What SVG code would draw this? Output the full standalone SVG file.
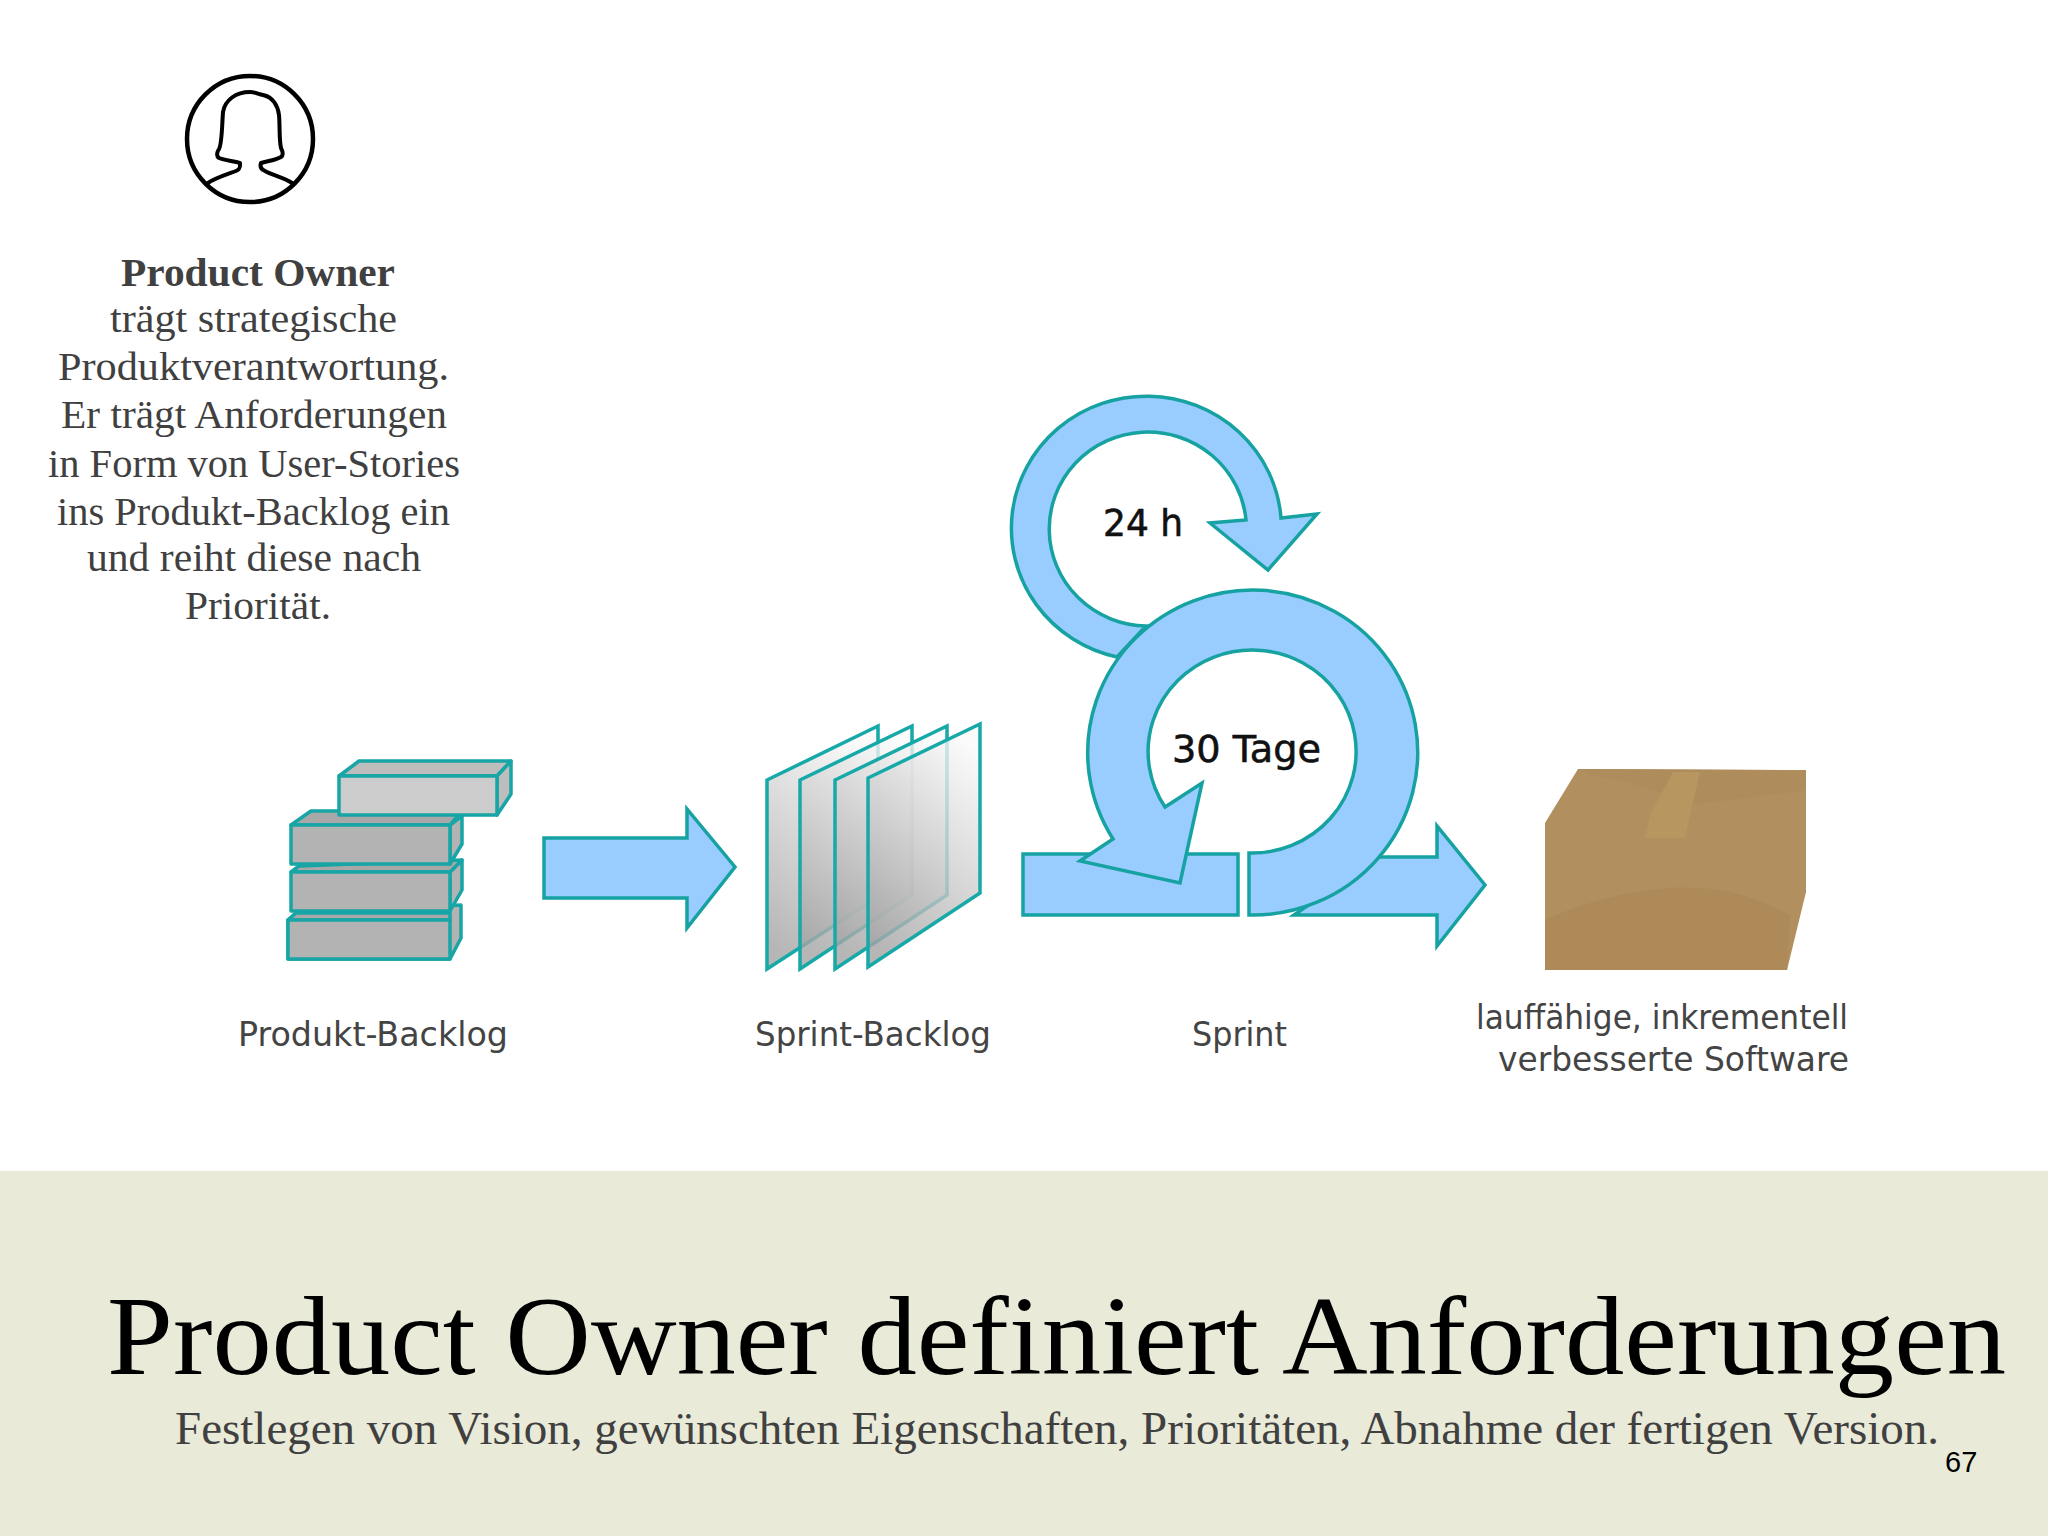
<svg xmlns="http://www.w3.org/2000/svg" width="2048" height="1536" viewBox="0 0 2048 1536">
<style>
.flow{fill:#99ccff;stroke:#17a2a2;stroke-width:3.5;stroke-linejoin:miter}
.bx{stroke:#17a5a5;stroke-width:3.5;stroke-linejoin:round}
.d{fill:#b3b3b3}.dt{fill:#a8a8a8}.l{fill:#cccccc}.lt{fill:#bdbdbd}
.pl{fill:url(#g);stroke:#17a8a8;stroke-width:3.5}
.body{font-family:"Liberation Serif",serif;font-size:39px;fill:#404040}
.lab{font-family:"DejaVu Sans",sans-serif;font-size:33px;fill:#444444}
.in{font-family:"DejaVu Sans",sans-serif;font-size:38px;fill:#111111;stroke:#111111;stroke-width:.6}
.ic{fill:none;stroke:#000;stroke-linejoin:round;stroke-linecap:round}
</style>
<defs>
<linearGradient id="g" x1="0.7" y1="0" x2="0.3" y2="1">
<stop offset="0" stop-color="#fafafa" stop-opacity=".8"/>
<stop offset="1" stop-color="#a4a4a4" stop-opacity=".8"/>
</linearGradient>
</defs>
<rect width="2048" height="1536" fill="#ffffff"/>
<rect id="band" x="0" y="1171" width="2048" height="365" fill="#e9ead8"/>

<g id="product-owner-icon">
<circle class="ic" cx="250" cy="139" r="63" stroke-width="4.5"/>
<path class="ic" stroke-width="4" d="M208,183 C215,178 228,174 236,171 C241,169 240,166 240,163 C232,161 224,160 219,158 C216,156 217,152 219,149 C222,144 222,125 223,112 C225,100 236,92 250,92 C255,92 258,94 263,95 C273,97 278,106 279,115 C280,125 279,140 281,148 C283,152 284,155 281,157 C276,160 268,161 261,163 C260,166 260,169 265,171 C272,175 285,178 292,183"/>
</g>

<g id="product-owner-text">
<text x="121" y="286" class="body" font-weight="bold" textLength="274" lengthAdjust="spacingAndGlyphs">Product Owner</text>
<text x="110" y="332" class="body" textLength="287" lengthAdjust="spacingAndGlyphs">trägt strategische</text>
<text x="58" y="380" class="body" textLength="391" lengthAdjust="spacingAndGlyphs">Produktverantwortung.</text>
<text x="61" y="428" class="body" textLength="386" lengthAdjust="spacingAndGlyphs">Er trägt Anforderungen</text>
<text x="48" y="477" class="body" textLength="412" lengthAdjust="spacingAndGlyphs">in Form von User-Stories</text>
<text x="57" y="525" class="body" textLength="393" lengthAdjust="spacingAndGlyphs">ins Produkt-Backlog ein</text>
<text x="87" y="571" class="body" textLength="334" lengthAdjust="spacingAndGlyphs">und reiht diese nach</text>
<text x="185" y="619" class="body" textLength="146" lengthAdjust="spacingAndGlyphs">Priorität.</text>
</g>

<g id="connectors">
<polygon class="flow" points="544,838 687,838 687,809 735,867 687,928 687,898 544,898"/>
<polygon class="flow" points="1378,857 1437,857 1437,826 1485,885 1437,946 1437,915 1294,915"/>
</g>

<g id="produkt-backlog">
<polygon class="bx d" points="288,920 296,913 461,905 461,938 450,959 288,959"/>
<polygon class="bx dt" points="288,920 296,913 450,913 450,920"/>
<rect class="bx d" x="288" y="920" width="162" height="39"/>
<polygon class="bx d" points="450,872 462,860 462,890 450,911"/>
<polygon class="bx dt" points="291,872 299,866 462,860 450,872"/>
<rect class="bx d" x="291" y="872" width="159" height="39"/>
<polygon class="bx d" points="450,825 462,816 462,844 450,864"/>
<polygon class="bx dt" points="291,825 311,811 462,811 450,825"/>
<rect class="bx d" x="291" y="825" width="159" height="39"/>
<polygon class="bx lt" points="339,776 359,761 511,761 497,776"/>
<polygon class="bx lt" points="497,776 511,761 511,794 497,815"/>
<rect class="bx l" x="339" y="776" width="158" height="39"/>
<text x="238" y="1046" class="lab" textLength="270" lengthAdjust="spacingAndGlyphs">Produkt-Backlog</text>
</g>

<g id="sprint-backlog">
<polygon class="pl" points="767,780 878,726 878,897 767,969"/>
<polygon class="pl" points="800,780 912,726 912,895 800,969"/>
<polygon class="pl" points="835,780 947,726 947,895 835,969"/>
<polygon class="pl" points="868,778 980,724 980,893 868,967"/>
<text x="755" y="1046" class="lab" textLength="236" lengthAdjust="spacingAndGlyphs">Sprint-Backlog</text>
</g>

<g id="sprint">
<path class="flow" d="M1117,657 A135,132 0 1 1 1281,518 L1317,514 L1268,570 L1210,523 L1246,520 A98.6,97 0 1 0 1146,626 Z"/>
<rect class="flow" x="1023" y="854" width="215" height="61"/>
<path class="flow" d="M1249,853 A104,101.5 0 1 0 1165,807 L1202,783 L1180,883 L1080,861 L1113,839 A165,162.5 0 1 1 1249,915 Z"/>
<text x="1103" y="536" class="in" textLength="80" lengthAdjust="spacingAndGlyphs">24 h</text>
<text x="1172" y="762" class="in" textLength="149" lengthAdjust="spacingAndGlyphs">30 Tage</text>
<text x="1192" y="1046" class="lab" textLength="95" lengthAdjust="spacingAndGlyphs">Sprint</text>
</g>

<g id="software">
<polygon points="1545,823 1578,769 1806,770 1806,892 1787,970 1545,970" fill="#b18f5f"/>
<path d="M1578,769 L1806,770 L1806,790 C1770,795 1730,800 1690,805 C1660,790 1625,780 1590,775 Z" fill="#af8c5b"/>
<path d="M1545,920 C1600,895 1660,885 1700,888 C1740,890 1770,905 1790,915 L1787,970 L1545,970 Z" fill="#ad8a58"/>
<polygon points="1673,772 1700,772 1685,838 1645,838 1650,815" fill="#b7965f"/>
<text x="1476" y="1029" class="lab" textLength="372" lengthAdjust="spacingAndGlyphs">lauffähige, inkrementell</text>
<text x="1498" y="1071" class="lab" textLength="351" lengthAdjust="spacingAndGlyphs">verbesserte Software</text>
</g>

<g id="title">
<text x="107" y="1374" font-family="'Liberation Serif',serif" font-size="112" fill="#000000" textLength="1899" lengthAdjust="spacingAndGlyphs">Product Owner definiert Anforderungen</text>
<text x="175" y="1444" font-family="'Liberation Serif',serif" font-size="46" fill="#404040" textLength="1764" lengthAdjust="spacingAndGlyphs">Festlegen von Vision, gewünschten Eigenschaften, Prioritäten, Abnahme der fertigen Version.</text>
<text x="1945" y="1472" font-family="'Liberation Sans',sans-serif" font-size="29" fill="#000000">67</text>
</g>
</svg>
